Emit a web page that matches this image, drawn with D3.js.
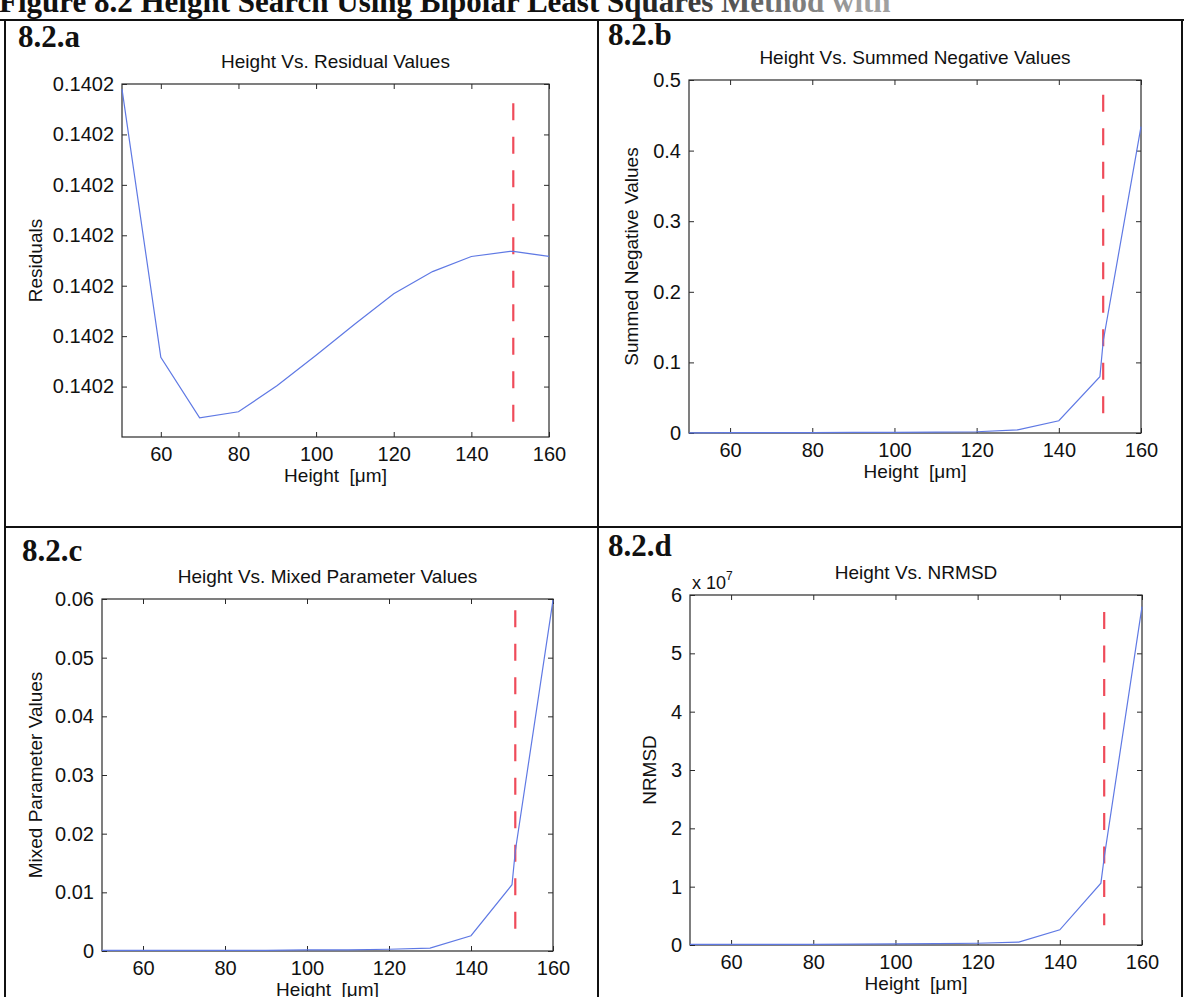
<!DOCTYPE html>
<html>
<head>
<meta charset="utf-8">
<script src="https://cdn.jsdelivr.net/npm/d3@7"></script>
<style>
  body { margin: 0; background: #fff; }
  svg { display: block; }
  text { font-family: "Liberation Sans", Arial, sans-serif; }
</style>
</head>
<body>
<svg id="fig" width="1184" height="997"></svg>
<script>
// Height search: sampled heights (µm) and the four search criteria
const heights = [50, 60, 70, 80, 90, 100, 110, 120, 130, 140, 150, 150.8, 160];
const residuals = [0.14019995, 0.14019729, 0.14019669, 0.14019675, 0.14019701, 0.14019731,
                   0.14019762, 0.14019792, 0.14019814, 0.14019829, 0.14019834, 0.14019834, 0.14019829];
const summedNegative = [0.0003, 0.0004, 0.0005, 0.0006, 0.0008, 0.0010,
                        0.0013, 0.0018, 0.0045, 0.0174, 0.0797, 0.13, 0.434];
const mixedParameter = [0.0001, 0.0001, 0.0001, 0.0001, 0.0001, 0.0002,
                        0.0002, 0.0003, 0.0005, 0.0026, 0.0113, 0.017, 0.0598];
const nrmsd = [1e5, 1e5, 1e5, 1.2e5, 1.5e5, 2e5, 2.5e5, 3e5, 5e5, 2.6e6, 1.06e7, 1.5e7, 5.8e7];

// Chosen height, marked with a dashed line, and the value span of that marker per panel (top, bottom)
const chosenHeight = 150.8;
const markerResidual = [0.14019981, 0.14019664];
const markerSummed = [0.479, 0.021];
const markerMixed = [0.0581, 0.0027];
const markerNrmsd = [5.71e7, 0.34e7];

// Axis ticks
const xTicks = [60, 80, 100, 120, 140, 160];
const yTicksResidual = [0.140197, 0.1401975, 0.140198, 0.1401985, 0.140199, 0.1401995, 0.1402];
const yTicksSummed = [0, 0.1, 0.2, 0.3, 0.4, 0.5];
const yTicksMixed = [0, 0.01, 0.02, 0.03, 0.04, 0.05, 0.06];
const yTicksNrmsd = [0, 1e7, 2e7, 3e7, 4e7, 5e7, 6e7];

const panels = [
  { tag: "8.2.a", title: "Height Vs. Residual Values", ylabel: "Residuals",
    values: residuals, marker: markerResidual, yDomain: [0.1401965, 0.1402], yTicks: yTicksResidual,
    fmt: d3.format(".4f"),
    box: { left: 122, right: 549, top: 84, bottom: 437 }, tagPos: [18, 47], ylabelX: 42 },
  { tag: "8.2.b", title: "Height Vs. Summed Negative Values", ylabel: "Summed Negative Values",
    values: summedNegative, marker: markerSummed, yDomain: [0, 0.5], yTicks: yTicksSummed,
    fmt: d => d === 0 ? "0" : d3.format(".1f")(d),
    box: { left: 689, right: 1141, top: 80, bottom: 433 }, tagPos: [608, 45], ylabelX: 638 },
  { tag: "8.2.c", title: "Height Vs. Mixed Parameter Values", ylabel: "Mixed Parameter Values",
    values: mixedParameter, marker: markerMixed, yDomain: [0, 0.06], yTicks: yTicksMixed,
    fmt: d => d === 0 ? "0" : d3.format(".2f")(d),
    box: { left: 102, right: 553, top: 599, bottom: 951 }, tagPos: [22, 561], ylabelX: 42 },
  { tag: "8.2.d", title: "Height Vs. NRMSD", ylabel: "NRMSD",
    values: nrmsd, marker: markerNrmsd, yDomain: [0, 6e7], yTicks: yTicksNrmsd,
    fmt: d => String(d / 1e7), exponent: 7,
    box: { left: 690, right: 1142, top: 595, bottom: 945 }, tagPos: [608, 556], ylabelX: 656 }
];

const svg = d3.select("#fig");
svg.append("rect").attr("width", 1184).attr("height", 997).attr("fill", "#fff");

// Figure caption, running off the top edge of the page
const grad = svg.append("defs").append("linearGradient")
  .attr("id", "captionFade").attr("gradientUnits", "userSpaceOnUse")
  .attr("x1", 0).attr("x2", 860).attr("y1", 0).attr("y2", 0);
grad.append("stop").attr("offset", "0.72").attr("stop-color", "#111");
grad.append("stop").attr("offset", "1").attr("stop-color", "#a0a0a0");
svg.append("text")
  .attr("x", -1).attr("y", 12)
  .style("font-family", "'Liberation Serif', 'Times New Roman', serif")
  .style("font-weight", "bold").style("font-size", "31px")
  .attr("fill", "url(#captionFade)")
  .text("Figure 8.2 Height Search Using Bipolar Least Squares Method with");

// Table grid holding the four panels
const grid = svg.append("g").attr("stroke", "#111").attr("stroke-width", 2).attr("fill", "none");
grid.append("line").attr("x1", 0).attr("x2", 1184).attr("y1", 20).attr("y2", 20);
grid.append("line").attr("x1", 5).attr("x2", 5).attr("y1", 20).attr("y2", 997);
grid.append("line").attr("x1", 598).attr("x2", 598).attr("y1", 20).attr("y2", 997);
grid.append("line").attr("x1", 1182).attr("x2", 1182).attr("y1", 20).attr("y2", 997);
grid.append("line").attr("x1", 5).attr("x2", 1182).attr("y1", 527).attr("y2", 527);

const axisColor = "#2a2a2a";
const tickLen = 5;

panels.forEach(p => {
  const b = p.box;
  const x = d3.scaleLinear().domain([50, 160]).range([b.left, b.right]);
  const y = d3.scaleLinear().domain(p.yDomain).range([b.bottom, b.top]);
  const g = svg.append("g");

  // Panel tag
  g.append("text").attr("x", p.tagPos[0]).attr("y", p.tagPos[1])
    .style("font-family", "'Liberation Serif', 'Times New Roman', serif")
    .style("font-weight", "bold").style("font-size", "31px").attr("fill", "#111")
    .text(p.tag);

  // Title
  g.append("text").attr("x", (b.left + b.right) / 2).attr("y", b.top - 16)
    .attr("text-anchor", "middle").style("font-size", "19px").attr("fill", "#111")
    .text(p.title);

  // Axes: bottom/left with labels, top/right mirrored ticks only, all ticks inward
  const bottom = d3.axisBottom(x).tickValues(xTicks).tickSizeInner(-tickLen).tickSizeOuter(0).tickPadding(10);
  const top = d3.axisTop(x).tickValues(xTicks).tickSizeInner(-tickLen).tickSizeOuter(0).tickFormat("");
  const left = d3.axisLeft(y).tickValues(p.yTicks).tickSizeInner(-tickLen).tickSizeOuter(0).tickPadding(8).tickFormat(p.fmt);
  const right = d3.axisRight(y).tickValues(p.yTicks).tickSizeInner(-tickLen).tickSizeOuter(0).tickFormat("");

  const styleAxis = sel => {
    sel.selectAll("path, line").attr("stroke", axisColor).attr("stroke-width", 1);
    sel.selectAll("text").style("font-size", "20px").attr("fill", "#111")
      .style("font-family", "'Liberation Sans', Arial, sans-serif");
  };
  g.append("g").attr("transform", `translate(0,${b.bottom})`).call(bottom).call(styleAxis);
  g.append("g").attr("transform", `translate(0,${b.top})`).call(top).call(styleAxis);
  g.append("g").attr("transform", `translate(${b.left},0)`).call(left).call(styleAxis);
  g.append("g").attr("transform", `translate(${b.right},0)`).call(right).call(styleAxis);
  g.selectAll(".domain").remove();
  g.append("rect").attr("x", b.left).attr("y", b.top)
    .attr("width", b.right - b.left).attr("height", b.bottom - b.top)
    .attr("fill", "none").attr("stroke", axisColor).attr("stroke-width", 1.2);

  // Exponent note above the y axis
  if (p.exponent) {
    const t = g.append("text").attr("x", b.left + 2).attr("y", b.top - 6)
      .style("font-size", "18px").attr("fill", "#111");
    t.append("tspan").text("x 10");
    t.append("tspan").attr("dy", -9).style("font-size", "12px").text(p.exponent);
  }

  // Axis labels
  g.append("text").attr("x", (b.left + b.right) / 2).attr("y", b.bottom + 45)
    .attr("text-anchor", "middle").style("font-size", "19px").style("white-space", "pre")
    .attr("fill", "#111")
    .text("Height  [μm]");
  g.append("text")
    .attr("transform", `translate(${p.ylabelX},${(b.top + b.bottom) / 2}) rotate(-90)`)
    .attr("text-anchor", "middle").style("font-size", "19px").attr("fill", "#111")
    .text(p.ylabel);

  // Dashed marker at the chosen height, drawn from the top down
  g.append("line")
    .attr("x1", x(chosenHeight)).attr("x2", x(chosenHeight))
    .attr("y1", y(p.marker[0])).attr("y2", y(p.marker[1]))
    .attr("stroke", "#ef4b5a").attr("stroke-width", 2.2).attr("stroke-dasharray", "17,16.5");

  // Criterion curve
  const line = d3.line().x((d, i) => x(heights[i])).y(d => y(d));
  g.append("path").datum(p.values).attr("d", line)
    .attr("fill", "none").attr("stroke", "#5f79e4").attr("stroke-width", 1.2);
});
</script>
</body>
</html>
